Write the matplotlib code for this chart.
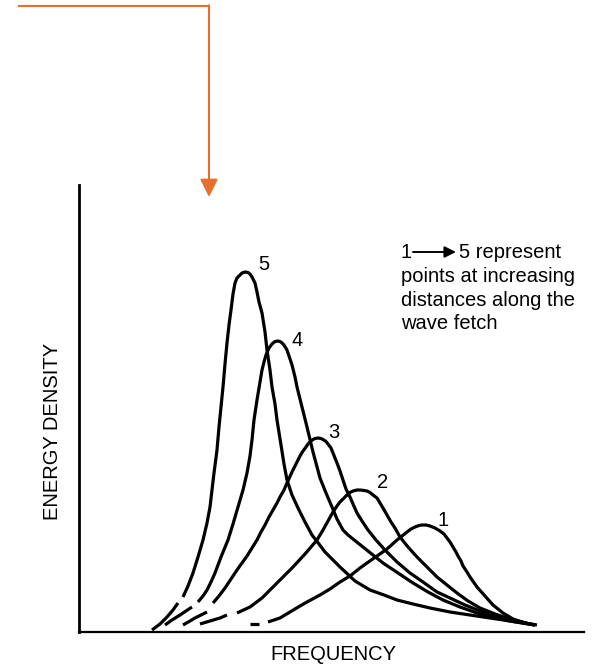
import numpy as np
import matplotlib
matplotlib.use('Agg')
import matplotlib.pyplot as plt

plt.rcParams['font.family'] = ['Liberation Sans', 'DejaVu Sans']

# ---- spectra (frequency, energy density), arbitrary units ----
# each curve is broken once near the baseline (gap index = first point after the gap)
f5 = [73, 81, 88, 94, 99, 104, 109, 114, 119, 124, 128, 131, 135, 138, 140, 142, 144, 146, 148, 150,
      152, 154, 156, 158, 161, 163, 166, 169, 171, 173, 176, 178, 180, 183, 186, 188, 191, 193, 196,
      198, 202, 205, 208, 213, 219, 226, 233, 240, 246, 254, 261, 276, 291, 305, 318, 334, 351, 371,
      391, 411, 431, 456]
e5 = [2, 8, 15, 22, 29, 35, 46, 59, 75, 92, 109, 125, 159, 182, 205, 225, 245, 268, 289, 307,
      322, 338, 349, 354, 357, 359, 360, 359.5, 358, 355, 349, 340, 330, 319, 300, 282, 262, 245, 228,
      212, 187, 168, 152, 137, 124, 110, 97, 88, 80, 72, 65, 51, 42, 37, 32, 28, 24, 20,
      17, 14, 11, 7]

f4 = [86, 93, 101, 107, 113, 119, 124, 128, 132, 136, 142, 149, 154, 159, 164, 168, 171, 173, 175,
      178, 181, 183, 185, 187, 190, 193, 196, 199, 202, 205, 208, 210, 213, 216, 218, 223, 228, 234,
      241, 247, 253, 258, 264, 269, 274, 284, 294, 304, 319, 334, 349, 364, 381, 398, 414, 431, 456]
e4 = [7, 12, 17, 21, 25, 30, 36, 42, 50, 59, 75, 92, 108, 125, 142, 159, 176, 192, 212,
      232, 250, 262, 270, 277, 284, 288, 290.5, 291, 290, 287, 282, 276, 267, 255, 245, 225, 205, 180,
      154, 139, 125, 113, 102, 97, 93, 85, 77, 69, 59, 49, 40, 32, 25, 19, 15, 11, 7]

f3 = [104, 111, 116, 122, 128, 134, 140, 146, 152, 158, 163, 168, 173, 178, 182, 186, 190, 194, 198,
      201, 205, 208, 213, 218, 221, 224, 227, 229, 232, 234, 236, 239, 242, 244, 247, 249, 252, 254,
      256, 258, 261, 264, 267, 271, 274, 278, 283, 289, 297, 306, 318, 331, 344, 358, 371, 386, 401,
      416, 431, 456]
e3 = [7, 11, 14, 17, 20, 29, 36, 44, 53, 62, 69, 76, 84, 92, 100, 107, 115, 122, 129,
      135, 142, 149, 160, 170, 176, 181, 185, 188, 191, 192.5, 193.5, 194, 193.5, 192.5, 190.5, 188, 184, 179,
      174, 169, 161, 152, 143, 135, 128, 119, 111, 102, 92, 82, 70, 59, 50, 40, 34, 27, 21,
      16, 12, 7]

f2 = [121, 131, 141, 148, 158, 171, 183, 194, 204, 214, 226, 232, 238, 241, 244, 249, 254, 258, 261,
      265, 268, 271, 274, 278, 281, 285, 288, 291, 294, 298, 301, 304, 308, 312, 316, 321, 325, 329,
      338, 348, 358, 368, 378, 389, 401, 416, 431, 451]
e2 = [8, 11, 14, 17, 19, 25, 34, 45, 55, 65, 78, 85, 92, 97, 102, 111, 120, 126, 130,
      134, 137, 139.5, 141, 142, 142, 141.5, 141, 139.5, 137, 134, 129, 124, 117, 110, 104, 95, 90, 85,
      75, 65, 55, 47, 39, 31, 24, 18, 13, 8]

f1 = [171, 180, 189, 201, 211, 221, 228, 241, 251, 261, 271, 281, 288, 298, 308, 318, 323, 328, 332,
      336, 340, 343, 347, 351, 356, 361, 365, 368, 371, 374, 377, 379, 382, 384, 388, 391, 398, 406,
      414, 424, 434, 446, 458]
e1 = [8, 8, 10, 14, 20, 26, 30, 37, 43, 50, 56, 64, 69, 76, 83, 92, 96, 100, 103,
      105, 106.5, 107, 107, 106, 104, 101, 98, 94, 90, 85, 80, 76, 71, 66, 60, 55, 45, 36,
      27, 19, 13, 9, 7]

curves = [(f1, e1, 2), (f2, e2, 4), (f3, e3, 5), (f4, e4, 5), (f5, e5, 5)]
labels = ['1', '2', '3', '4', '5']
label_pos = [(364, 112), (304, 149), (255, 200), (218, 291), (185, 367)]

note_lines = ['points at increasing', 'distances along the', 'wave fetch']

# ---- figure ----
fig = plt.figure(figsize=(5.94, 6.65), dpi=100)
ax = fig.add_axes([79 / 594, 33 / 665, 505 / 594, 447 / 665])
ax.set_xlim(0, 505)
ax.set_ylim(0, 447)
for s in ['top', 'right']:
    ax.spines[s].set_visible(False)
ax.spines['left'].set_linewidth(2.0)
ax.spines['bottom'].set_linewidth(1.6)
ax.set_xticks([])
ax.set_yticks([])

for (f, e, g), lab, (lx, ly) in zip(curves, labels, label_pos):
    ax.plot(f[:g], e[:g], color='black', lw=2.3, solid_capstyle='butt')
    ax.plot(f[g:], e[g:], color='black', lw=2.3, solid_capstyle='butt', solid_joinstyle='round')
    ax.text(lx, ly, lab, fontsize=14.5, ha='center', va='center')

# axis titles
fig.text(53 / 594, 1 - 431 / 665, 'ENERGY DENSITY', rotation=90, fontsize=14.5,
         ha='center', va='center')
fig.text(333 / 594, 1 - 655 / 665, 'FREQUENCY', fontsize=14.5, ha='center', va='center')

# note text
fig.text(401 / 594, 1 - 252 / 665, '1', fontsize=14.5, ha='left', va='center')
fig.text(459 / 594, 1 - 252 / 665, '5 represent', fontsize=14.5, ha='left', va='center')
for i, line in enumerate(note_lines):
    fig.text(401 / 594, 1 - (276 + 24 * i) / 665, line, fontsize=14.5, ha='left', va='center')

# overlay for the arrows (pixel coordinates)
ov = fig.add_axes([0, 0, 1, 1])
ov.set_xlim(0, 594)
ov.set_ylim(665, 0)
ov.axis('off')
ov.annotate('', xy=(456, 252), xytext=(413, 252),
            arrowprops=dict(arrowstyle='-|>', color='black', lw=1.4, mutation_scale=17,
                            shrinkA=0, shrinkB=0))
orange = '#E8702E'
ov.plot([18, 209], [6, 6], color=orange, lw=1.5, solid_capstyle='butt')
ov.annotate('', xy=(209, 197), xytext=(209, 5.3),
            arrowprops=dict(arrowstyle='-|>', color=orange, lw=1.5, mutation_scale=27,
                            shrinkA=0, shrinkB=0))

fig.savefig('out.png', dpi=100)
